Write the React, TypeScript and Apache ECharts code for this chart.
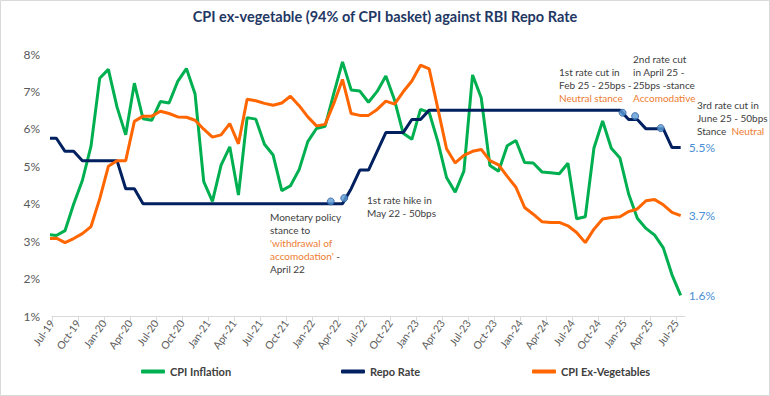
import React, { useEffect, useRef } from "react";
import * as echarts from "echarts";

// Monthly categories (Jun-19 is the partial, clipped first point)
const months = [
  "Jun-19", "Jul-19", "Aug-19", "Sep-19", "Oct-19", "Nov-19", "Dec-19",
  "Jan-20", "Feb-20", "Mar-20", "Apr-20", "May-20", "Jun-20", "Jul-20", "Aug-20", "Sep-20", "Oct-20", "Nov-20", "Dec-20",
  "Jan-21", "Feb-21", "Mar-21", "Apr-21", "May-21", "Jun-21", "Jul-21", "Aug-21", "Sep-21", "Oct-21", "Nov-21", "Dec-21",
  "Jan-22", "Feb-22", "Mar-22", "Apr-22", "May-22", "Jun-22", "Jul-22", "Aug-22", "Sep-22", "Oct-22", "Nov-22", "Dec-22",
  "Jan-23", "Feb-23", "Mar-23", "Apr-23", "May-23", "Jun-23", "Jul-23", "Aug-23", "Sep-23", "Oct-23", "Nov-23", "Dec-23",
  "Jan-24", "Feb-24", "Mar-24", "Apr-24", "May-24", "Jun-24", "Jul-24", "Aug-24", "Sep-24", "Oct-24", "Nov-24", "Dec-24",
  "Jan-25", "Feb-25", "Mar-25", "Apr-25", "May-25", "Jun-25", "Jul-25",
];

const cpiInflation = [
  3.18, 3.15, 3.28, 3.99, 4.62, 5.54, 7.35,
  7.59, 6.58, 5.84, 7.22, 6.27, 6.23, 6.73, 6.69, 7.27, 7.61, 6.93, 4.59,
  4.06, 5.03, 5.52, 4.23, 6.30, 6.26, 5.59, 5.30, 4.35, 4.48, 4.91, 5.66,
  6.01, 6.07, 6.95, 7.79, 7.04, 7.01, 6.71, 7.00, 7.41, 6.77, 5.88, 5.72,
  6.52, 6.44, 5.66, 4.70, 4.31, 4.87, 7.44, 6.83, 5.02, 4.87, 5.55, 5.69,
  5.10, 5.09, 4.85, 4.83, 4.80, 5.08, 3.60, 3.65, 5.49, 6.21, 5.48, 5.22,
  4.26, 3.61, 3.34, 3.16, 2.82, 2.10, 1.55,
];

const repoRate = [
  5.75, 5.75, 5.40, 5.40, 5.15, 5.15, 5.15,
  5.15, 5.15, 4.40, 4.40, 4.00, 4.00, 4.00, 4.00, 4.00, 4.00, 4.00, 4.00,
  4.00, 4.00, 4.00, 4.00, 4.00, 4.00, 4.00, 4.00, 4.00, 4.00, 4.00, 4.00,
  4.00, 4.00, 4.00, 4.00, 4.40, 4.90, 4.90, 5.40, 5.90, 5.90, 5.90, 6.25,
  6.25, 6.50, 6.50, 6.50, 6.50, 6.50, 6.50, 6.50, 6.50, 6.50, 6.50, 6.50,
  6.50, 6.50, 6.50, 6.50, 6.50, 6.50, 6.50, 6.50, 6.50, 6.50, 6.50, 6.50,
  6.25, 6.25, 6.00, 6.00, 6.00, 5.50, 5.50,
];

const cpiExVegetables = [
  3.07, 3.08, 2.96, 3.07, 3.20, 3.39, 4.13,
  5.00, 5.15, 5.15, 6.20, 6.34, 6.34, 6.47, 6.41, 6.32, 6.31, 6.23, 5.99,
  5.78, 5.84, 6.14, 5.60, 6.79, 6.75, 6.68, 6.63, 6.69, 6.87, 6.62, 6.32,
  6.08, 6.12, 6.68, 7.32, 6.41, 6.36, 6.36, 6.52, 6.74, 6.66, 6.99, 7.28,
  7.70, 7.60, 6.54, 5.47, 5.09, 5.29, 5.40, 5.45, 5.15, 5.04, 4.73, 4.44,
  3.90, 3.72, 3.52, 3.50, 3.50, 3.41, 3.23, 2.96, 3.32, 3.59, 3.63, 3.65,
  3.79, 3.86, 4.08, 4.11, 3.97, 3.77, 3.68,
];

const tickLabels = [
  "Jul-19", "Oct-19", "Jan-20", "Apr-20", "Jul-20", "Oct-20", "Jan-21", "Apr-21", "Jul-21",
  "Oct-21", "Jan-22", "Apr-22", "Jul-22", "Oct-22", "Jan-23", "Apr-23", "Jul-23", "Oct-23",
  "Jan-24", "Apr-24", "Jul-24", "Oct-24", "Jan-25", "Apr-25", "Jul-25",
];

// policy-event markers: months after Jul-19 and rate level
const markerMonths = [31.65, 33.2, 65.3, 66.75, 69.7];
const markerValues = [4.06, 4.15, 6.43, 6.34, 6.02];

const GREEN = "#00B050";
const NAVY = "#002060";
const ORANGE = "#FF6600";
const NOTE_ORANGE = "#ED7D31";
const LABEL_BLUE = "#4A8FD4";
const TEXT = "#404040";
const FONT = "Lato, sans-serif";

export default function App() {
  const ref = useRef<HTMLDivElement>(null);

  useEffect(() => {
    if (!ref.current) return;
    const chart = echarts.init(ref.current, undefined, { renderer: "svg" });

    const toPairs = (arr: number[]) => arr.map((v, i) => [i - 0.5, v]);
    const tickValues = tickLabels.map((_, k) => k * 3);
    const fmtEnd = (p: any) => {
      const v = Array.isArray(p.value) ? p.value[1] : p.value;
      return (Math.round(v * 10 + 1e-6) / 10).toFixed(1) + "%";
    };
    const endLabel = {
      show: true,
      formatter: fmtEnd,
      color: LABEL_BLUE,
      fontSize: 12,
      fontFamily: FONT,
      distance: 8,
    };

    const note = (x: number, y: number, text: string) => ({
      type: "text",
      left: x,
      top: y,
      silent: true,
      style: {
        text,
        fill: TEXT,
        fontSize: 10,
        fontFamily: FONT,
        lineHeight: 13,
        rich: {
          o: { fill: NOTE_ORANGE, fontSize: 10, fontFamily: FONT, lineHeight: 13 },
        },
      },
    });

    const legendBase = {
      top: 361,
      itemWidth: 24,
      itemHeight: 4,
      icon: "roundRect",
      textStyle: { color: TEXT, fontSize: 11, fontWeight: "bold", fontFamily: FONT },
      itemGap: 4,
    };

    chart.setOption({
      animation: false,
      backgroundColor: "#ffffff",
      textStyle: { fontFamily: FONT },
      title: {
        text: "CPI ex-vegetable (94% of CPI basket) against RBI Repo Rate",
        left: "center",
        top: 4,
        textStyle: { color: "#1F3864", fontSize: 14.5, fontWeight: "bold", fontFamily: FONT },
      },
      grid: { left: 52, right: 85, top: 54, bottom: 80 },
      legend: [
        { ...legendBase, left: 136, data: ["CPI Inflation"] },
        { ...legendBase, left: 336, data: ["Repo Rate"] },
        { ...legendBase, left: 527, data: ["CPI Ex-Vegetables"] },
      ],
      xAxis: {
        type: "value",
        min: 0,
        max: 73,
        interval: 3,
        splitLine: { show: false },
        axisLine: { show: true, lineStyle: { color: "#D9D9D9", width: 1 } },
        axisTick: { show: true, length: 5, lineStyle: { color: "#D9D9D9" }, customValues: tickValues },
        axisLabel: {
          customValues: tickValues,
          rotate: 55,
          color: "#595959",
          fontSize: 10.5,
          fontFamily: FONT,
          margin: 5,
          hideOverlap: false,
          formatter: (v: number) => (v % 3 === 0 && v / 3 < tickLabels.length ? tickLabels[v / 3] : ""),
        },
      },
      yAxis: {
        type: "value",
        min: 1,
        max: 8,
        interval: 1,
        splitLine: { show: false },
        axisLine: { show: false },
        axisTick: { show: false },
        axisLabel: { formatter: "{value}%", color: "#595959", fontSize: 12, fontFamily: FONT, margin: 12 },
      },
      series: [
        {
          name: "CPI Inflation",
          type: "line",
          data: toPairs(cpiInflation),
          showSymbol: false,
          symbol: "none",
          clip: true,
          lineStyle: { color: GREEN, width: 3 },
          itemStyle: { color: GREEN },
          endLabel,
        },
        {
          name: "Repo Rate",
          type: "line",
          data: toPairs(repoRate),
          showSymbol: false,
          symbol: "none",
          clip: true,
          lineStyle: { color: NAVY, width: 3 },
          itemStyle: { color: NAVY },
          endLabel,
        },
        {
          name: "CPI Ex-Vegetables",
          type: "line",
          data: toPairs(cpiExVegetables),
          showSymbol: false,
          symbol: "none",
          clip: true,
          lineStyle: { color: ORANGE, width: 3 },
          itemStyle: { color: ORANGE },
          endLabel,
        },
        {
          name: "Policy events",
          type: "scatter",
          data: markerMonths.map((m, i) => [m + 0.5, markerValues[i]]),
          symbolSize: 7,
          itemStyle: { color: "#5B9BD5", borderColor: "#2E5E9E", borderWidth: 1 },
          z: 5,
        },
      ],
      graphic: [
        {
          type: "rect",
          silent: true,
          shape: { x: 0.5, y: 0.5, width: 769, height: 395 },
          style: { fill: "none", stroke: "#D9D9D9", lineWidth: 1 },
        },
        note(270, 210, "Monetary policy\nstance to\n{o|'withdrawal of}\n{o|accomodation'} -\nApril 22"),
        note(367, 193, "1st rate hike in\nMay 22 - 50bps"),
        note(559, 65, "1st rate cut in\nFeb 25 - 25bps -\n{o|Neutral stance}"),
        note(633, 52, "2nd rate cut\nin April 25 -\n25bps -stance\n{o|Accomodative}"),
        note(697, 98, "3rd rate cut in\nJune 25 - 50bps\nStance  {o|Neutral}"),
      ],
    });

    return () => chart.dispose();
  }, []);

  return (
    <div
      ref={ref}
      style={{ position: "fixed", left: 0, top: 0, width: 770, height: 396, background: "#fff" }}
    />
  );
}
